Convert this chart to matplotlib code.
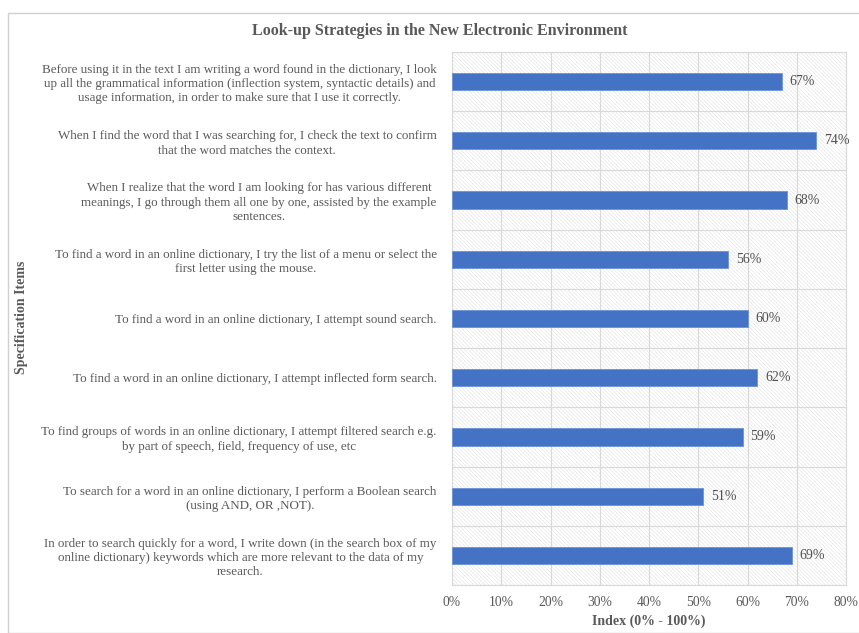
import numpy as np
import matplotlib
matplotlib.use('Agg')
import matplotlib.pyplot as plt
from matplotlib.patches import Rectangle
from matplotlib.ticker import MultipleLocator, FuncFormatter

# data
items = [
    "Before using it in the text I am writing a word found in the dictionary, I look\n"
    "up all the grammatical information (inflection system, syntactic details) and\n"
    "usage information, in order to make sure that I use it correctly.",
    "When I find the word that I was searching for, I check the text to confirm\n"
    "that the word matches the context.",
    "When I realize that the word I am looking for has various different\n"
    "meanings, I go through them all one by one, assisted by the example\n"
    "sentences.",
    "To find a word in an online dictionary, I try the list of a menu or select the\n"
    "first letter using the mouse.",
    "To find a word in an online dictionary, I attempt sound search.",
    "To find a word in an online dictionary, I attempt inflected form search.",
    "To find groups of words in an online dictionary, I attempt filtered search e.g.\n"
    "by part of speech, field, frequency of use, etc",
    "To search for a word in an online dictionary, I perform a Boolean search\n"
    "(using AND, OR ,NOT).",
    "In order to search quickly for a word, I write down (in the search box of my\n"
    "online dictionary) keywords which are more relevant to the data of my\n"
    "research.",
]
values = [67, 74, 68, 56, 60, 62, 59, 51, 69]
title = "Look-up Strategies in the New Electronic Environment"

grey = '#595959'
plt.rcParams['font.family'] = ['Liberation Serif']
plt.rcParams['hatch.linewidth'] = 0.35
plt.rcParams['hatch.color'] = '#dedede'

fig = plt.figure(figsize=(8.59, 6.33), dpi=100)
fig.patches.append(Rectangle((8/859, 0), 1, 1 - 13/633, transform=fig.transFigure,
                             fill=False, edgecolor='#d0d0d0', linewidth=1))
ax = fig.add_axes([452/859, 48/633, 394/859, 533/633])

ax.patch.set_facecolor('white')
ax.patch.set_hatch('\\' * 9)
ax.patch.set_edgecolor('#dedede')

y = np.arange(len(items))
ax.barh(y, values, height=0.29, color='#4472C4', edgecolor='#6d93d6', linewidth=0.6, zorder=3)
for yi, v in zip(y, values):
    ax.text(v + 1.6, yi, f"{v}%", va='center', ha='left', fontsize=10, color='#505050', zorder=4)

ax.set_xlim(0, 80)
ax.set_ylim(len(items) - 0.5, -0.5)
ax.xaxis.set_major_locator(MultipleLocator(10))
ax.xaxis.set_major_formatter(FuncFormatter(lambda x, p: f"{int(x)}%"))
ax.set_yticks(y)
ax.set_yticklabels(items, fontsize=9.4, color=grey, multialignment='center', linespacing=1.25)
ax.set_yticks(np.arange(len(items) + 1) - 0.5, minor=True)
ax.tick_params(axis='y', which='both', length=0, pad=11)
ax.tick_params(axis='x', length=0, pad=8, labelsize=9.8, labelcolor=grey)

ax.grid(axis='x', which='major', color='#d9d9d9', linewidth=0.8, zorder=1)
ax.grid(axis='y', which='minor', color='#d9d9d9', linewidth=0.8, zorder=1)
ax.set_axisbelow(True)
for s in ax.spines.values():
    s.set_color('#d9d9d9')
    s.set_linewidth(0.8)

ax.set_xlabel("Index (0% - 100%)", fontsize=10, fontweight='bold', color=grey, labelpad=4)
fig.text(22/859, 1 - 317/633, "Specification Items", rotation=90, ha='center', va='center',
         fontsize=10, fontweight='bold', color=grey)
fig.text(440/859, 1 - 31/633, title, ha='center', va='center',
         fontsize=11.5, fontweight='bold', color=grey)

fig.savefig('out.png', dpi=100)
